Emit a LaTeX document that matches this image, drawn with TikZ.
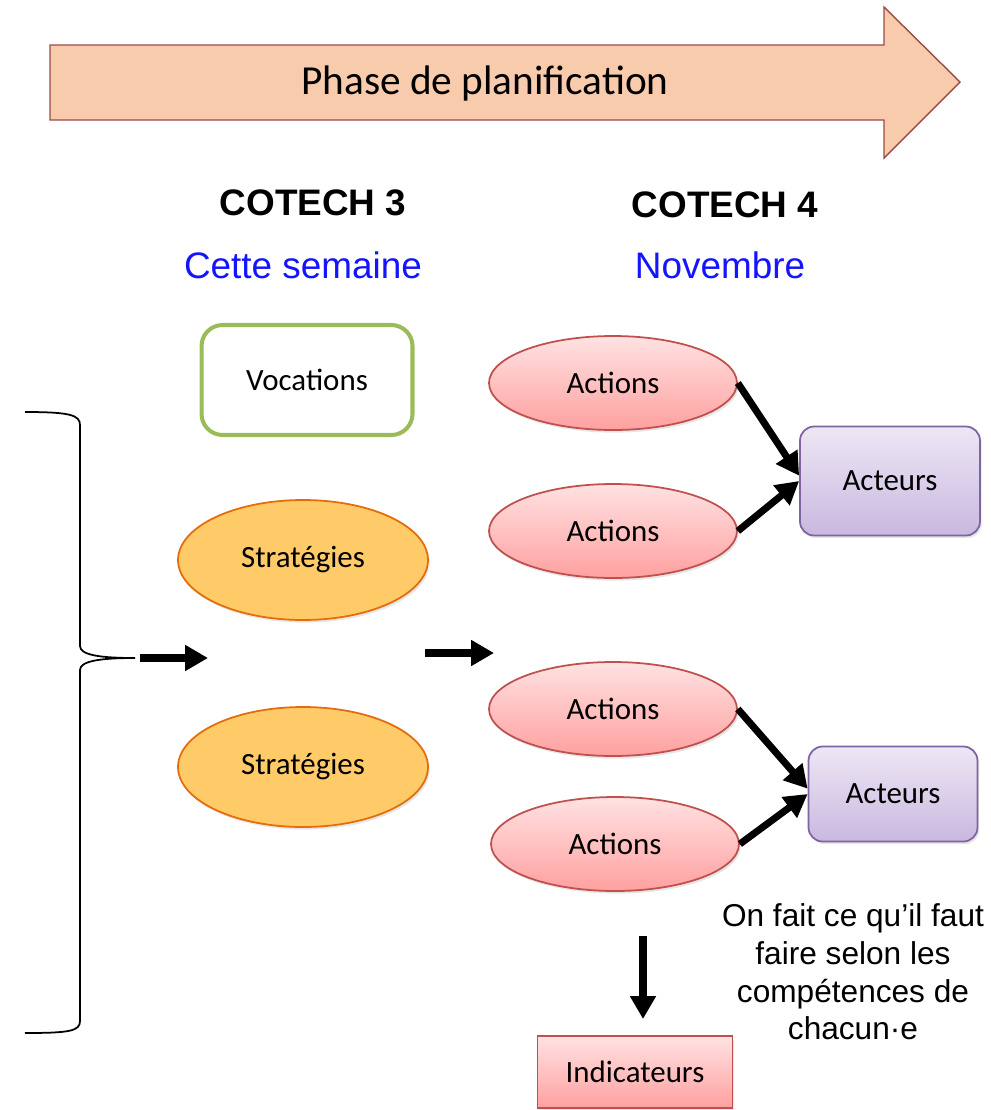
\documentclass[tikz,border=0pt]{standalone}
\usepackage{fontspec}
\setmainfont{Carlito}
\newfontfamily\arialfont{Liberation Sans}
\usepackage{tikz}
\usetikzlibrary{shapes.geometric,arrows.meta,shadows}
\definecolor{peach}{HTML}{F8CBAD}
\definecolor{peachline}{HTML}{9C4A44}
\definecolor{vocline}{HTML}{9BBB59}
\definecolor{strfill}{HTML}{FFCB69}
\definecolor{strline}{HTML}{E46C0A}
\definecolor{acttop}{HTML}{FFE2E2}
\definecolor{actbot}{HTML}{FFA0A0}
\definecolor{actline}{HTML}{C0504D}
\definecolor{acrtop}{HTML}{EDE7F4}
\definecolor{acrbot}{HTML}{C9B8E0}
\definecolor{acrline}{HTML}{8064A2}
\definecolor{moisblue}{HTML}{1414FF}

\begin{document}
\begin{tikzpicture}[x=0.02cm,y=-0.02cm,
  txt/.style={font=\fontsize{17.6}{21}\selectfont},
  soft/.style={drop shadow={opacity=0.2,shadow xshift=1pt,shadow yshift=-1.5pt}},
  cotech/.style={font=\arialfont\bfseries\fontsize{21}{25}\selectfont},
  mois/.style={font=\arialfont\fontsize{21}{25}\selectfont,text=moisblue},
  strat/.style={ellipse,draw=strline,line width=1pt,fill=strfill,minimum width=5cm,minimum height=2.4cm,inner sep=0pt,soft,txt},
  action/.style={ellipse,draw=actline,line width=1pt,top color=acttop,bottom color=actbot,minimum width=4.96cm,minimum height=1.88cm,inner sep=0pt,soft,txt},
  acteur/.style={rectangle,rounded corners=8pt,draw=acrline,line width=1pt,top color=acrtop,bottom color=acrbot,inner sep=0pt,soft,txt},
  fleche/.style={-{Triangle[length=13pt,width=14pt]},line width=4pt}
]
\useasboundingbox (0,0) rectangle (991,1110);

\draw[fill=peach,draw=peachline,line width=0.8pt]
  (50,45) -- (884,45) -- (884,7) -- (960,82) -- (884,158) -- (884,120) -- (50,120) -- cycle;
\node[font=\fontsize{23.5}{28}\selectfont] (phase) at (485,83) {Phase de planification};

\node[cotech] (cotechA) at (313,203) {COTECH 3};
\node[cotech] (cotechB) at (725,205) {COTECH 4};
\node[mois] (semaine) at (303,265) {Cette semaine};
\node[mois] (novembre) at (720,265) {Novembre};

\node[rectangle,rounded corners=12pt,draw=vocline,line width=2.3pt,fill=white,
      minimum width=4.22cm,minimum height=2.2cm,inner sep=0pt,txt] (voc) at (307,380) {Vocations};
\node[strat] (strA) at (303,560) {Stratégies};
\node[strat] (strB) at (303,767) {Stratégies};

\node[action] (actA) at (613,383) {Actions};
\node[action] (actB) at (613,531) {Actions};
\node[action] (actC) at (613,709) {Actions};
\node[action] (actD) at (615,844) {Actions};

\node[acteur,minimum width=3.6cm,minimum height=2.18cm] (acrA) at (890,481) {Acteurs};
\node[acteur,minimum width=3.38cm,minimum height=1.9cm] (acrB) at (893,794) {Acteurs};

\node[rectangle,draw=actline,line width=1pt,top color=acttop,bottom color=actbot,
      minimum width=3.9cm,minimum height=1.44cm,inner sep=0pt,soft,txt] (indic) at (635,1072) {Indicateurs};

\node[font=\arialfont\fontsize{18}{21.5}\selectfont,align=center] (note) at (853,972)
  {On fait ce qu’il faut\\faire selon les\\compétences de\\chacun·e};

\draw[fleche] (actA.east) -- ([yshift=3pt]acrA.west);
\draw[fleche] (actB.east) -- (acrA.west);
\draw[fleche] (actC.east) -- ([yshift=3pt]acrB.west);
\draw[fleche] (actD.east) -- (acrB.west);

\coordinate (tip) at (135,658);
\coordinate (g1) at (140,658);
\coordinate (g2) at (208,658);
\coordinate (m1) at (425,653);
\coordinate (m2) at (494,653);
\coordinate (d1) at (643,936);
\coordinate (d2) at (643,1019);
\draw[fleche] (g1) -- (g2);
\draw[fleche] (m1) -- (m2);
\draw[fleche] (d1) -- (d2);

\draw[line width=1pt]
  (25,412) .. controls (70,412) and (80,415) .. (80,425) -- (80,646)
  .. controls (80,655) and (100,658) .. (tip)
  .. controls (100,658) and (80,661) .. (80,670) -- (80,1021)
  .. controls (80,1031) and (70,1033) .. (25,1033);
\end{tikzpicture}
\end{document}
